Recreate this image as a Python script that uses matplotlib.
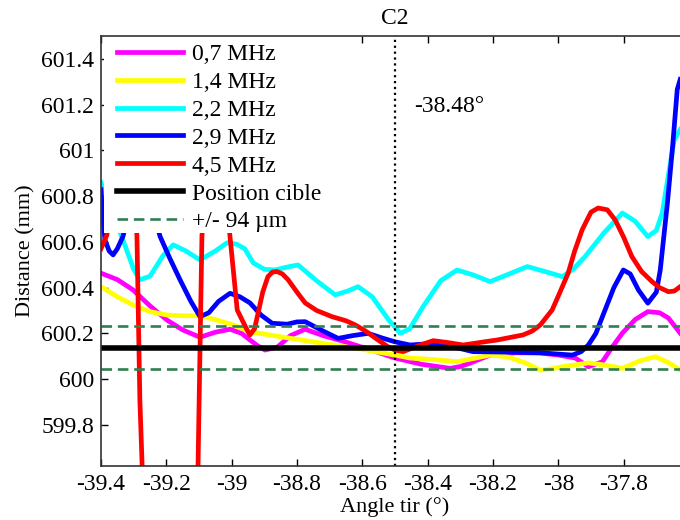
import matplotlib
matplotlib.use("Agg")
import matplotlib.pyplot as plt
from matplotlib.patches import Rectangle

plt.rcParams['font.family'] = ['Liberation Serif', 'DejaVu Serif']
plt.rcParams['font.size'] = 17

# Courbes (angle en degres, distance en mm)
x_07 = [-39.400, -39.350, -39.302, -39.250, -39.198, -39.150, -39.097, -39.050, -39.005,
        -38.970, -38.944, -38.920, -38.898, -38.860, -38.820, -38.775, -38.720, -38.653,
        -38.580, -38.500, -38.420, -38.331, -38.300, -38.270, -38.209, -38.130, -38.055,
        -38.000, -37.948, -37.908, -37.865, -37.835, -37.804, -37.765, -37.726, -37.690,
        -37.663, -37.627]
d_07 = [600.463, 600.435, 600.390, 600.320, 600.258, 600.215, 600.183, 600.205, 600.218,
        600.200, 600.171, 600.145, 600.127, 600.140, 600.190, 600.218, 600.190, 600.163,
        600.130, 600.092, 600.065, 600.047, 600.055, 600.070, 600.105, 600.115, 600.114,
        600.105, 600.092, 600.054, 600.076, 600.140, 600.201, 600.260, 600.295, 600.290,
        600.267, 600.201]

x_14 = [-39.400, -39.350, -39.302, -39.250, -39.198, -39.150, -39.097, -39.050, -38.996,
        -38.944, -38.850, -38.729, -38.600, -38.500, -38.454, -38.380, -38.310, -38.260,
        -38.209, -38.157, -38.100, -38.055, -38.020, -37.988, -37.908, -37.860, -37.804,
        -37.750, -37.703, -37.660, -37.627]
d_14 = [600.404, 600.360, 600.324, 600.295, 600.280, 600.277, 600.277, 600.260, 600.237,
        600.207, 600.185, 600.158, 600.130, 600.105, 600.092, 600.085, 600.076, 600.090,
        600.105, 600.098, 600.070, 600.039, 600.045, 600.054, 600.071, 600.062, 600.047,
        600.080, 600.098, 600.070, 600.039]

x_22 = [-39.400, -39.370, -39.333, -39.300, -39.281, -39.250, -39.210, -39.179, -39.140,
        -39.097, -39.050, -39.014, -38.985, -38.960, -38.934, -38.900, -38.867, -38.830,
        -38.797, -38.740, -38.683, -38.645, -38.613, -38.570, -38.520, -38.484, -38.455,
        -38.414, -38.360, -38.310, -38.260, -38.209, -38.150, -38.095, -38.040, -37.988,
        -37.955, -37.918, -37.860, -37.804, -37.765, -37.726, -37.700, -37.682, -37.657,
        -37.645, -37.627]
d_22 = [600.859, 600.750, 600.609, 600.480, 600.434, 600.450, 600.540, 600.587, 600.560,
        600.521, 600.560, 600.596, 600.590, 600.570, 600.508, 600.480, 600.477, 600.490,
        600.499, 600.430, 600.368, 600.385, 600.404, 600.360, 600.260, 600.200, 600.220,
        600.317, 600.430, 600.477, 600.455, 600.426, 600.460, 600.492, 600.470, 600.448,
        600.480, 600.536, 600.640, 600.726, 600.690, 600.623, 600.650, 600.726, 600.946,
        601.047, 601.091]

x_29 = [-39.400, -39.394, -39.388, -39.375, -39.363, -39.350, -39.333, -39.310, -39.281,
        -39.250, -39.219, -39.190, -39.158, -39.125, -39.097, -39.070, -39.040, -39.005,
        -38.975, -38.944, -38.910, -38.876, -38.830, -38.800, -38.775, -38.720, -38.674,
        -38.630, -38.582, -38.540, -38.500, -38.454, -38.383, -38.320, -38.261, -38.160,
        -38.055, -37.957, -37.930, -37.908, -37.885, -37.865, -37.830, -37.801, -37.780,
        -37.755, -37.726, -37.700, -37.688, -37.666, -37.650, -37.636, -37.627]
d_29 = [600.828, 600.700, 600.609, 600.560, 600.543, 600.570, 600.623, 600.750, 600.830,
        600.780, 600.623, 600.530, 600.434, 600.340, 600.273, 600.290, 600.340, 600.375,
        600.360, 600.333, 600.280, 600.244, 600.240, 600.250, 600.251, 600.210, 600.178,
        600.190, 600.200, 600.180, 600.163, 600.149, 600.156, 600.140, 600.120, 600.118,
        600.115, 600.105, 600.120, 600.149, 600.200, 600.273, 600.400, 600.477, 600.460,
        600.390, 600.332, 600.380, 600.477, 600.771, 601.020, 601.266, 601.310]

x_45 = [-39.400, -39.382, -39.360, -39.330, -39.300, -39.290, -39.281, -39.274, -39.260,
        -39.190, -39.120, -39.103, -39.091, -39.070, -39.030, -39.005, -38.983, -38.953,
        -38.944, -38.930, -38.919, -38.905, -38.889, -38.875, -38.861, -38.845, -38.827,
        -38.800, -38.775, -38.740, -38.693, -38.650, -38.622, -38.590, -38.552, -38.520,
        -38.500, -38.475, -38.430, -38.383, -38.340, -38.291, -38.240, -38.187, -38.108,
        -38.080, -38.055, -38.019, -37.995, -37.970, -37.950, -37.927, -37.900, -37.878,
        -37.850, -37.826, -37.800, -37.775, -37.745, -37.713, -37.690, -37.663, -37.645,
        -37.627]
d_45 = [600.570, 600.630, 600.850, 600.950, 600.850, 600.626, 599.908, 599.620, 599.000,
        598.600, 599.000, 599.620, 600.626, 601.000, 601.000, 600.622, 600.302, 600.215,
        600.193, 600.220, 600.289, 600.380, 600.448, 600.468, 600.470, 600.460, 600.434,
        600.380, 600.333, 600.300, 600.273, 600.255, 600.237, 600.210, 600.171, 600.140,
        600.127, 600.120, 600.145, 600.168, 600.160, 600.149, 600.160, 600.171, 600.193,
        600.210, 600.237, 600.302, 600.380, 600.463, 600.560, 600.653, 600.730, 600.748,
        600.740, 600.696, 600.620, 600.536, 600.470, 600.426, 600.400, 600.382, 600.385,
        600.404]

position_cible = 600.138
tolerance = 0.094
angle_ligne = -38.50
angle_texte = "-38.48°"

xticks = [-39.4, -39.2, -39.0, -38.8, -38.6, -38.4, -38.2, -38.0, -37.8]
xtick_labels = ['-39.4', '-39.2', '-39', '-38.8', '-38.6', '-38.4', '-38.2', '-38', '-37.8']
yticks = [599.8, 600.0, 600.2, 600.4, 600.6, 600.8, 601.0, 601.2, 601.4]
ytick_labels = ['599.8', '600', '600.2', '600.4', '600.6', '600.8', '601', '601.2', '601.4']

fig = plt.figure(figsize=(6.8, 5.2), dpi=100)
ax = fig.add_axes([101/680, 54/520, 588/680, 430/520])

lw = 3.4
ax.plot(x_07, d_07, color='#ff00ff', lw=lw, label='0,7 MHz')
ax.plot(x_14, d_14, color='#ffff00', lw=lw, label='1,4 MHz')
ax.plot(x_22, d_22, color='#00ffff', lw=lw, label='2,2 MHz')
ax.plot(x_29, d_29, color='#0000ff', lw=lw, label='2,9 MHz')
ax.plot(x_45, d_45, color='#ff0000', lw=lw, label='4,5 MHz')
ax.axhline(position_cible, color='black', lw=4, label='Position cible')
ax.axhline(position_cible + tolerance, color='#2f7f52', lw=1.9, ls=(0, (4, 2.2)),
           label='+/- 94 µm')
ax.axhline(position_cible - tolerance, color='#2f7f52', lw=1.9, ls=(0, (4, 2.2)))
ax.axvline(angle_ligne, color='black', lw=1.6, ls=':')
ax.text(-38.44, 601.19, angle_texte, ha='left', va='center', fontsize=17)

# fond blanc de la legende (cache les courbes derriere)
ax.add_patch(Rectangle((0.005, 0.542), 0.385, 0.458, transform=ax.transAxes,
                       facecolor='white', edgecolor='none', zorder=4))

ax.set_xlim(-39.4, -37.6)
ax.set_ylim(599.62, 601.5)
ax.set_xticks(xticks)
ax.set_xticklabels(xtick_labels)
ax.set_yticks(yticks)
ax.set_yticklabels(ytick_labels)
ax.tick_params(direction='in', length=5, width=1, top=True, right=False, labelsize=17)
ax.tick_params(axis='x', pad=6)
ax.tick_params(axis='y', pad=5)
for s in ['left', 'bottom', 'top']:
    ax.spines[s].set_color('#333333')
    ax.spines[s].set_linewidth(1.2)
    ax.spines[s].set_zorder(6)
ax.spines['right'].set_visible(False)

ax.set_xlabel('Angle tir (°)', fontsize=16, labelpad=1)
ax.set_ylabel('Distance (mm)', fontsize=16, labelpad=4)
ax.set_title('C2', fontsize=17, pad=9)

leg = ax.legend(loc='upper left', bbox_to_anchor=(0.0272, 0.9825), fontsize=17,
                handlelength=2.8, handletextpad=0.38, labelspacing=0.27,
                borderpad=0, borderaxespad=0, frameon=False)
leg.set_zorder(5)

fig.savefig('out.png', dpi=100)
